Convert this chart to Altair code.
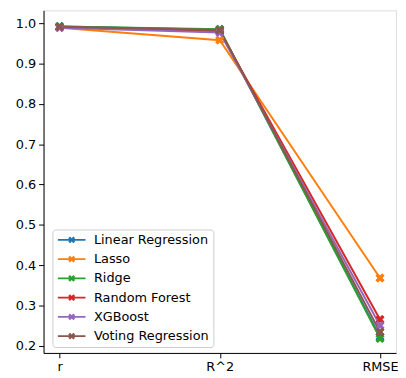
import altair as alt
import pandas as pd

metrics = ["r", "R^2", "RMSE"]
models = ["Linear Regression", "Lasso", "Ridge", "Random Forest", "XGBoost", "Voting Regression"]
colors = ["#1f77b4", "#ff7f0e", "#2ca02c", "#d62728", "#9467bd", "#8c564b"]

linear_reg = [0.992, 0.984, 0.222]
lasso = [0.989, 0.958, 0.368]
ridge = [0.992, 0.985, 0.218]
random_forest = [0.990, 0.980, 0.265]
xgboost = [0.989, 0.977, 0.250]
voting_reg = [0.991, 0.983, 0.234]

series = [linear_reg, lasso, ridge, random_forest, xgboost, voting_reg]
rows = []
for mi, (m, vals) in enumerate(zip(models, series)):
    for xi, (k, v) in enumerate(zip(metrics, vals)):
        rows.append({"model": m, "metric": k, "value": v, "order": mi * 10 + xi})
df = pd.DataFrame(rows)

X_PATH = ("M-0.5,-1L0,-0.5L0.5,-1L1,-0.5L0.5,0L1,0.5L0.5,1L0,0.5"
          "L-0.5,1L-1,0.5L-0.5,0L-1,-0.5Z")
LEG_PATH = "M-4,-0.28L4,-0.28L4,0.28L-4,0.28Z" + X_PATH

x_enc = alt.X("metric:N", sort=metrics, title=None,
              scale=alt.Scale(type="point", padding=0.1),
              axis=alt.Axis(labelAngle=0, labelFontSize=13, labelColor="black",
                            tickColor="black", domainColor="black", tickSize=5,
                            labelPadding=3, grid=False))
y_enc = alt.Y("value:Q", title=None,
              scale=alt.Scale(domain=[0.182, 1.032], nice=False, zero=False),
              axis=alt.Axis(values=[0.2, 0.3, 0.4, 0.5, 0.6, 0.7, 0.8, 0.9, 1.0],
                            format=".1f", labelFontSize=13, labelColor="black",
                            tickColor="black", domainColor="black", tickSize=5,
                            labelPadding=3, grid=False))

legend = alt.Legend(
    title=None, orient="none", legendX=9, legendY=222,
    symbolType=LEG_PATH, symbolSize=49, symbolStrokeWidth=0,
    symbolOffset=9, labelOffset=16, labelFontSize=13, labelColor="black",
    rowPadding=5.5, padding=4, strokeColor="#cccccc", fillColor="white",
    cornerRadius=3, symbolOpacity=1,
)
color_enc = alt.Color("model:N", sort=models,
                      scale=alt.Scale(domain=models, range=colors), legend=legend)

base = alt.Chart(df)
points = base.mark_point(shape=X_PATH, filled=True, size=80, opacity=1).encode(
    x=x_enc, y=y_enc, color=color_enc, order=alt.Order("order:Q"))
lines = base.mark_line(strokeWidth=2).encode(
    x=x_enc, y=y_enc, color=color_enc, order=alt.Order("order:Q"))

chart = alt.layer(points, lines, points).properties(
    width=357, height=347,
    autosize=alt.AutoSizeParams(type="none"),
    padding={"left": 36, "top": 0, "right": 2, "bottom": 20},
).configure_view(stroke="black", strokeWidth=1).configure(
    font="DejaVu Sans")

chart.save("out.html", embed_options={"renderer": "svg", "actions": False})
